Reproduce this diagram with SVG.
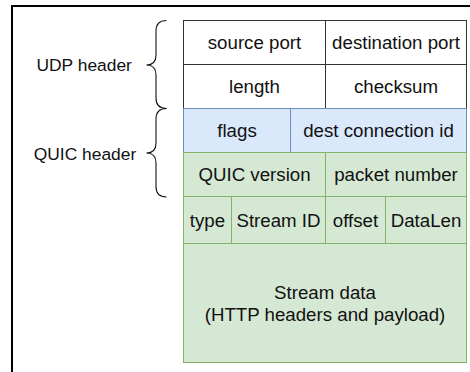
<svg xmlns="http://www.w3.org/2000/svg" width="470" height="372" viewBox="0 0 470 372">
  <style>
    .t { font-family: "Liberation Sans", Arial, Helvetica, sans-serif; font-size: 18.7px; fill: #111; text-anchor: middle; }
    .lbl { font-family: "Liberation Sans", Arial, Helvetica, sans-serif; font-size: 17.4px; fill: #111; text-anchor: middle; }
    .udp { fill: #ffffff; stroke: #333333; stroke-width: 1; }
    .blue { fill: #dae8fc; stroke: #6c8ebf; stroke-width: 1; }
    .green { fill: #d5e8d4; stroke: #82b366; stroke-width: 1; }
    .brace { fill: none; stroke: #111; stroke-width: 1.1; }
  </style>

  <rect x="0" y="0" width="470" height="372" fill="#ffffff"/>
  <!-- outer frame, runs past the right and bottom edges -->
  <rect x="12" y="6" width="480" height="400" fill="none" stroke="#000" stroke-width="2"/>

  <!-- UDP header cells -->
  <g id="source-port">
    <rect class="udp" x="183.5" y="20.5" width="142" height="44"/>
    <text class="t" x="254.5" y="49.3">source port</text>
  </g>
  <g id="destination-port">
    <rect class="udp" x="325.5" y="20.5" width="141" height="44"/>
    <text class="t" x="396" y="49.3">destination port</text>
  </g>
  <g id="length">
    <rect class="udp" x="183.5" y="64.5" width="142" height="44"/>
    <text class="t" x="254.5" y="93.3">length</text>
  </g>
  <g id="checksum">
    <rect class="udp" x="325.5" y="64.5" width="141" height="44"/>
    <text class="t" x="396" y="93.3">checksum</text>
  </g>

  <!-- QUIC header cells -->
  <g id="flags">
    <rect class="blue" x="183.5" y="108.5" width="107" height="44"/>
    <text class="t" x="237" y="137.3">flags</text>
  </g>
  <g id="dest-connection-id">
    <rect class="blue" x="290.5" y="108.5" width="176" height="44"/>
    <text class="t" x="378.5" y="137.3">dest connection id</text>
  </g>
  <g id="quic-version">
    <rect class="green" x="183.5" y="152.5" width="142" height="44"/>
    <text class="t" x="254.5" y="181.3">QUIC version</text>
  </g>
  <g id="packet-number">
    <rect class="green" x="325.5" y="152.5" width="141" height="44"/>
    <text class="t" x="396" y="181.3">packet number</text>
  </g>

  <!-- stream frame -->
  <g id="type">
    <rect class="green" x="183.5" y="196.5" width="48" height="47"/>
    <text class="t" x="207.5" y="226.8">type</text>
  </g>
  <g id="stream-id">
    <rect class="green" x="231.5" y="196.5" width="94" height="47"/>
    <text class="t" x="278.5" y="226.8">Stream ID</text>
  </g>
  <g id="offset">
    <rect class="green" x="325.5" y="196.5" width="60" height="47"/>
    <text class="t" x="355.5" y="226.8">offset</text>
  </g>
  <g id="datalen">
    <rect class="green" x="385.5" y="196.5" width="81" height="47"/>
    <text class="t" x="426" y="226.8">DataLen</text>
  </g>
  <g id="stream-data">
    <rect class="green" x="183.5" y="243.5" width="283" height="119"/>
    <text class="t" x="325" y="298.5">Stream data</text>
    <text class="t" x="325" y="320.5">(HTTP headers and payload)</text>
  </g>

  <!-- side labels -->
  <g id="udp-header-label">
    <text class="lbl" x="84.2" y="71.3">UDP header</text>
  </g>
  <g id="quic-header-label">
    <text class="lbl" x="85" y="159.5">QUIC header</text>
  </g>

  <!-- curly braces grouping the header rows -->
  <g id="braces">
    <path class="brace" d="M166.5 20.5 Q156 20.5 156 31 L156 55 Q156 65 146.5 65 Q156 65 156 75 L156 98 Q156 108.5 166.5 108.5"/>
    <path class="brace" d="M166.5 108.5 Q156 108.5 156 119 L156 143 Q156 153 146.5 153 Q156 153 156 163 L156 186.5 Q156 197 166.5 197"/>
  </g>
</svg>
